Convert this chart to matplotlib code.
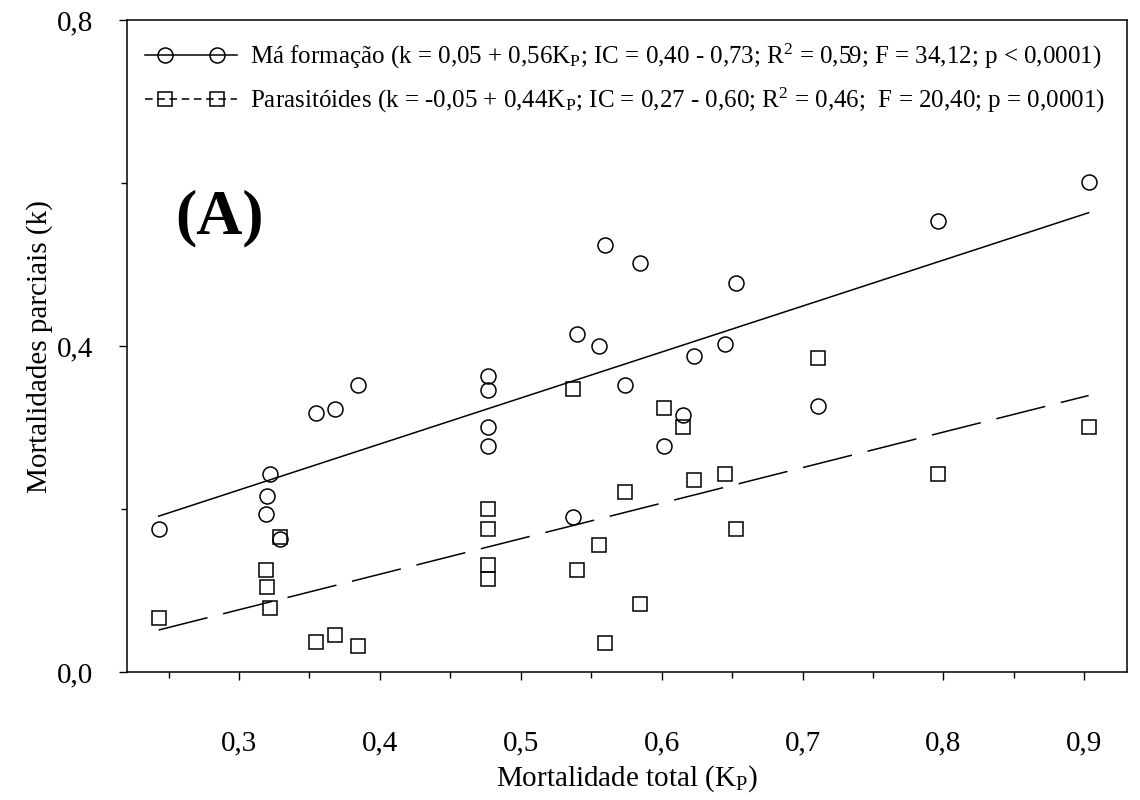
import matplotlib
matplotlib.use("Agg")
import matplotlib.pyplot as plt
import numpy as np
from matplotlib.lines import Line2D
from matplotlib.legend_handler import HandlerLine2D, HandlerTuple
from matplotlib.ticker import FixedLocator, FuncFormatter

plt.rcParams['font.family'] = ['Liberation Serif', 'DejaVu Serif']
plt.rcParams['mathtext.fontset'] = 'custom'
plt.rcParams['mathtext.rm'] = 'Liberation Serif'
plt.rcParams['mathtext.it'] = 'Liberation Serif:italic'

# Mortalidade total (Kp) e mortalidades parciais (k)
kp = [0.243, 0.319, 0.320, 0.322, 0.329, 0.355, 0.368, 0.3845,
      0.477, 0.477, 0.477, 0.477, 0.537, 0.540, 0.5555, 0.560,
      0.574, 0.5846, 0.602, 0.615, 0.623, 0.645, 0.653, 0.711,
      0.796, 0.903]
ma_formacao = [0.176, 0.1945, 0.2158, 0.2432, 0.1635, 0.3184, 0.3225, 0.3523,
               0.3634, 0.3458, 0.3008, 0.2775, 0.1908, 0.4149, 0.3998, 0.5244,
               0.3523, 0.502, 0.2775, 0.3152, 0.3879, 0.4023, 0.477, 0.3262,
               0.5531, 0.6017]
parasitoides = [0.067, 0.1251, 0.1046, 0.0792, 0.1659, 0.0368, 0.0457, 0.0323,
                0.1999, 0.1757, 0.1316, 0.1141, 0.3470, 0.1251, 0.1561, 0.0356,
                0.2215, 0.0834, 0.3245, 0.3012, 0.2358, 0.2428, 0.1761, 0.3851,
                0.2432, 0.3008]

rotulo_ma = (r'Má formação (k = 0,05 + 0,56K$_\mathrm{P}$; IC = 0,40 - 0,73; '
             r'R$^2$ = 0,59; F = 34,12; p < 0,0001)')
rotulo_par = (r'Parasitóides (k = -0,05 + 0,44K$_\mathrm{P}$; IC = 0,27 - 0,60; '
              r'R$^2$ = 0,46;  F = 20,40; p = 0,0001)')

x_ticks = [0.3, 0.4, 0.5, 0.6, 0.7, 0.8, 0.9]
y_ticks = [0.0, 0.4, 0.8]

fig = plt.figure(figsize=(11.4, 8), dpi=100)
ax = fig.add_axes([0.1111, 0.1596, 0.8772, 0.8154])

x = np.array(kp)
xs = np.array([x.min(), x.max()])

# regressões lineares
a1, b1 = np.polyfit(x, ma_formacao, 1)
a2, b2 = np.polyfit(x, parasitoides, 1)
ax.plot(xs, a1 * xs + b1, color='black', lw=1.1)
ax.plot(xs, a2 * xs + b2, color='black', lw=1.1, dashes=(33, 10.5))

ax.plot(x, ma_formacao, 'o', ms=10.8, mfc='none', mec='black', mew=1.1)
ax.plot(x, parasitoides, 's', ms=9.8, mfc='none', mec='black', mew=1.1)

# legenda: linha inteira + dois marcadores afastados das pontas
l1 = Line2D([], [], color='black', lw=1.1)
m1 = Line2D([], [], ls='none', marker='o', ms=10.8, mfc='none', mec='black', mew=1.1)
l2 = Line2D([], [], color='black', lw=1.1, dashes=(5, 3))
m2 = Line2D([], [], ls='none', marker='s', ms=9.8, mfc='none', mec='black', mew=1.1)
mapa = {l1: HandlerLine2D(marker_pad=0), l2: HandlerLine2D(marker_pad=0),
        m1: HandlerLine2D(marker_pad=0.8), m2: HandlerLine2D(marker_pad=0.8),
        tuple: HandlerTuple(ndivide=1)}
leg = ax.legend([(l1, m1), (l2, m2)], [rotulo_ma, rotulo_par], loc='upper left',
                bbox_to_anchor=(0.0, 0.994), frameon=False, fontsize=18,
                handlelength=3.68, handletextpad=0.52, labelspacing=0.6,
                borderpad=0.43, borderaxespad=0.3, numpoints=2,
                handler_map=mapa)

ax.text(0.2865, 0.557, '(A)', fontsize=46, fontweight='bold', ha='center', va='center')

ax.set_xlim(0.2203, 0.930)
ax.set_ylim(0.0, 0.8)
ax.xaxis.set_major_locator(FixedLocator(x_ticks))
ax.xaxis.set_minor_locator(FixedLocator(np.arange(0.25, 0.93, 0.05)))
ax.yaxis.set_major_locator(FixedLocator(y_ticks))
ax.yaxis.set_minor_locator(FixedLocator([0.2, 0.6]))
virgula = FuncFormatter(lambda v, p: ('%.1f' % v).replace('.', ','))
ax.xaxis.set_major_formatter(virgula)
ax.yaxis.set_major_formatter(virgula)

ax.tick_params(which='major', direction='out', length=6, width=1, labelsize=21)
ax.tick_params(which='minor', direction='out', length=4, width=1)
ax.tick_params(axis='x', which='major', pad=36)
ax.tick_params(axis='y', which='major', pad=18)
for s in ax.spines.values():
    s.set_linewidth(1.1)

ax.set_xlabel(r'Mortalidade total (K$_\mathrm{P}$)', fontsize=21, labelpad=5)
ax.set_ylabel('Mortalidades parciais (k)', fontsize=21, labelpad=3)

fig.savefig('out.png', dpi=100)
